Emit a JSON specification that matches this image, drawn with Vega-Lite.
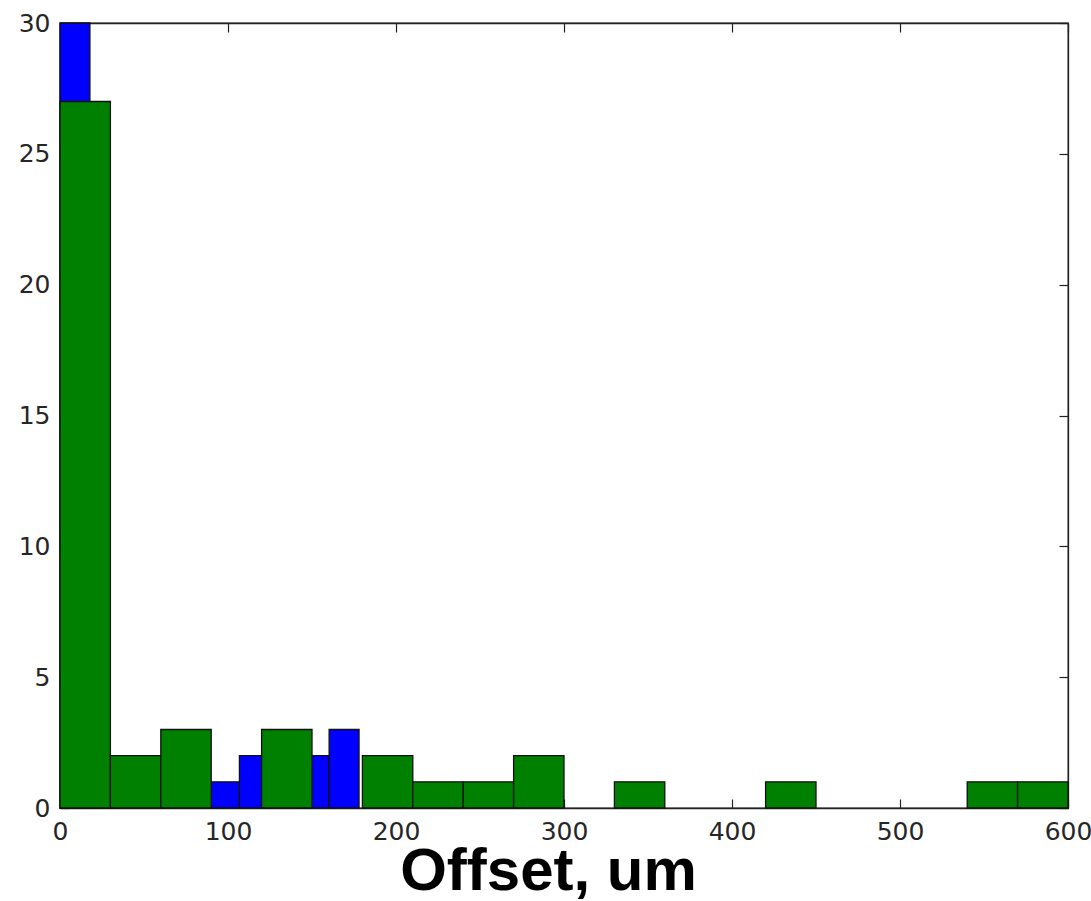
{
  "$schema": "https://vega.github.io/schema/vega-lite/v6.json",
  "autosize": "none",
  "width": 1008,
  "height": 785,
  "padding": {"left": 60, "top": 23, "right": 23, "bottom": 93},
  "background": "white",
  "config": {
    "view": {"stroke": "#222222", "strokeWidth": 1.3},
    "axis": {
      "grid": false,
      "domainColor": "#222222",
      "domainWidth": 1.3,
      "tickColor": "#222222",
      "tickWidth": 1.2,
      "tickSize": -9,
      "labelFont": "DejaVu Sans",
      "labelFontSize": 25,
      "labelColor": "#262626"
    }
  },
  "datasets": {
    "blue": [
      {"start": 0, "end": 17.8, "count": 30},
      {"start": 17.8, "end": 35.6, "count": 0},
      {"start": 89.0, "end": 106.8, "count": 1},
      {"start": 106.8, "end": 124.6, "count": 2},
      {"start": 142.4, "end": 160.2, "count": 2},
      {"start": 160.2, "end": 178.0, "count": 3}
    ],
    "green": [
      {"start": 0, "end": 30, "count": 27},
      {"start": 30, "end": 60, "count": 2},
      {"start": 60, "end": 90, "count": 3},
      {"start": 120, "end": 150, "count": 3},
      {"start": 180, "end": 210, "count": 2},
      {"start": 210, "end": 240, "count": 1},
      {"start": 240, "end": 270, "count": 1},
      {"start": 270, "end": 300, "count": 2},
      {"start": 330, "end": 360, "count": 1},
      {"start": 420, "end": 450, "count": 1},
      {"start": 540, "end": 570, "count": 1},
      {"start": 570, "end": 600, "count": 1}
    ]
  },
  "layer": [
    {
      "data": {"name": "blue"},
      "mark": {"type": "bar", "color": "#0000ff", "stroke": "#111111", "strokeWidth": 1.3},
      "encoding": {
        "x": {
          "field": "start", "type": "quantitative",
          "scale": {"domain": [0, 600], "nice": false, "zero": false},
          "axis": {
            "orient": "bottom", "values": [0, 100, 200, 300, 400, 500, 600],
            "labelPadding": 20, "labelFlush": false, "labelBaseline": "top",
            "title": "Offset, um", "titleFont": "Liberation Sans", "titleFontSize": 60,
            "titleFontWeight": "bold", "titleColor": "#000000",
            "titleX": 488, "titleY": 81, "titleAlign": "center", "titleBaseline": "alphabetic"
          }
        },
        "x2": {"field": "end"},
        "y": {
          "field": "count", "type": "quantitative",
          "scale": {"domain": [0, 30], "nice": false},
          "axis": {
            "orient": "left", "values": [0, 5, 10, 15, 20, 25, 30],
            "labelPadding": 19, "labelFlush": false, "title": null
          }
        },
        "y2": {"datum": 0}
      }
    },
    {
      "data": {"name": "green"},
      "mark": {"type": "bar", "color": "#008000", "stroke": "#111111", "strokeWidth": 1.3},
      "encoding": {
        "x": {
          "field": "start", "type": "quantitative",
          "axis": {"orient": "top", "values": [0, 100, 200, 300, 400, 500, 600], "labels": false, "title": null}
        },
        "x2": {"field": "end"},
        "y": {
          "field": "count", "type": "quantitative",
          "axis": {"orient": "right", "values": [0, 5, 10, 15, 20, 25, 30], "labels": false, "title": null}
        },
        "y2": {"datum": 0}
      }
    }
  ],
  "resolve": {"axis": {"x": "independent", "y": "independent"}}
}
